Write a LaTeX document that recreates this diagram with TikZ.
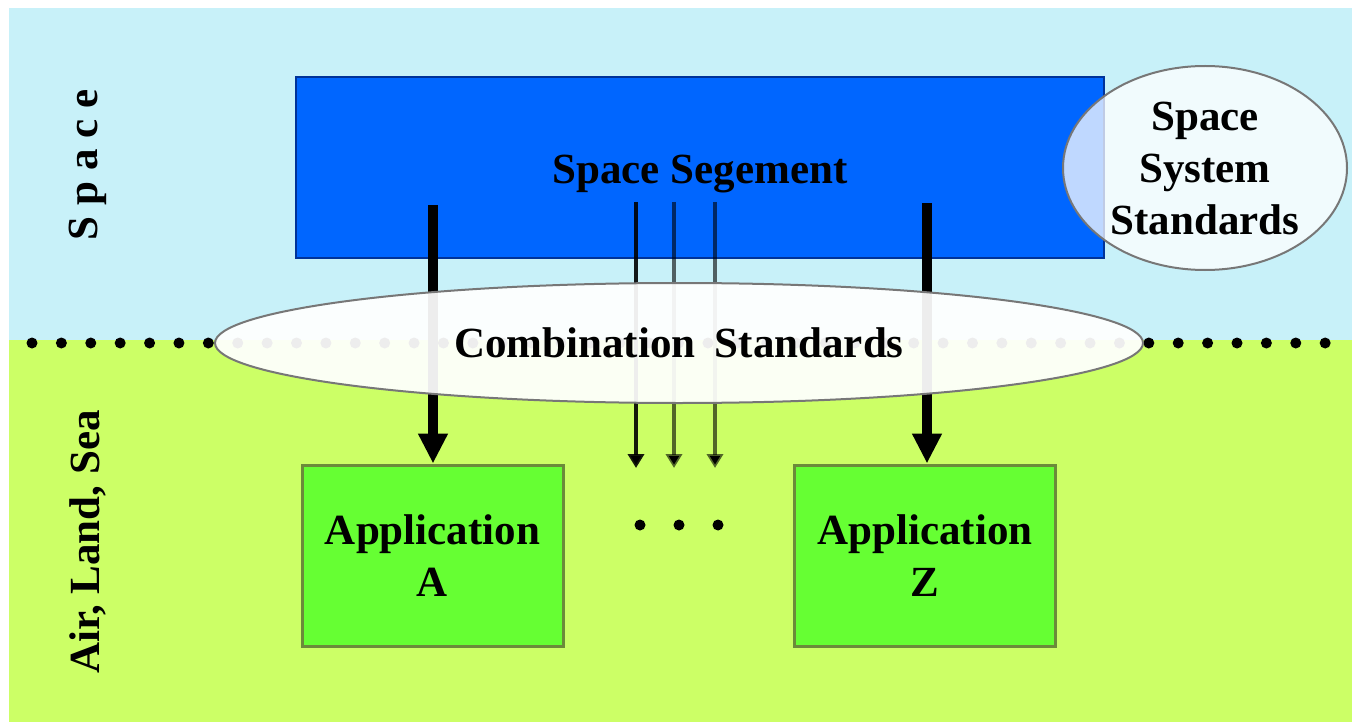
\documentclass[tikz,border=0pt]{standalone}
\usepackage{fontspec}
\setmainfont{Liberation Serif}
\usetikzlibrary{arrows.meta,shapes.geometric}
\definecolor{skybg}{HTML}{C8F1F9}
\definecolor{landbg}{HTML}{CCFF66}
\definecolor{segblue}{HTML}{0066FF}
\definecolor{segedge}{HTML}{003399}
\definecolor{appgreen}{HTML}{66FF33}
\definecolor{appedge}{HTML}{6B8B3A}
\definecolor{elledge}{HTML}{777777}
\tikzset{
  lbl/.style={font=\fontsize{43}{52}\selectfont\bfseries, text=black, align=center},
  segbox/.style={lbl, draw=segedge, line width=2pt, fill=segblue, minimum width=808pt, minimum height=181pt, inner sep=0pt},
  appbox/.style={lbl, draw=appedge, line width=3pt, fill=appgreen, minimum width=261pt, minimum height=181pt, inner sep=0pt},
  stdell/.style={lbl, ellipse, draw=elledge, line width=2pt, fill=white, inner sep=0pt},
  bigarrow/.style={line width=10pt, draw=black, -{Triangle[length=30pt,width=28pt]}},
  thinarrow/.style={line width=4.5pt, draw=black, draw opacity=0.6, -{Triangle[length=14pt,width=16pt]}},
  sidelbl/.style={lbl, rotate=90},
  bigdot/.style={circle, fill=black, minimum size=11pt, inner sep=0pt}
}
\begin{document}
\begin{tikzpicture}[x=1pt,y=-1pt]
\useasboundingbox (0,0) rectangle (1352,722);
\fill[white] (0,0) rectangle (1352,722);
\fill[skybg] (9,8) rectangle (1352,340);
\fill[landbg] (9,340) rectangle (1352,722);
% side labels
\node[sidelbl] (lspace) at (88,165) {S p a c e};
\node[sidelbl] (lland) at (88,542) {Air, Land, Sea};
% space segment
\node[segbox] (seg) at (700,167.5) {\raisebox{-7pt}[\height][\depth]{Space Segement}};
% dotted boundary
\foreach \i in {0,...,44} {\fill[black] ({32+\i*29.39},343) circle (5.5pt);}
% applications
\node[appbox] (appA) at (432.5,555.5) {Application\\A};
\node[appbox] (appZ) at (925,555.5) {Application\\Z};
% arrows
\coordinate (sA) at (433,205);
\coordinate (sZ) at (927,203);
\coordinate (t1) at (636,202);
\coordinate (t2) at (674,202);
\coordinate (t3) at (715,202);
\coordinate (e1) at (636,468);
\coordinate (e2) at (674,468);
\coordinate (e3) at (715,468);
\draw[bigarrow] (sA) -- (sA |- appA.north);
\draw[bigarrow] (sZ) -- (sZ |- appZ.north);
\draw[thinarrow, draw opacity=0.9] (t1) -- (e1);
\draw[thinarrow] (t2) -- (e2);
\draw[thinarrow] (t3) -- (e3);
% ellipses
\node[stdell, fill opacity=0.93, text opacity=1, minimum width=928pt, minimum height=120pt] (comb) at (679,343) {Combination\hspace{0.2em} Standards};
\node[stdell, fill opacity=0.75, text opacity=1, minimum width=284pt, minimum height=204pt] (sss) at (1205,168) {Space\\System\\Standards};
% ellipsis dots
\node[bigdot] (d1) at (640,525) {};
\node[bigdot] (d2) at (679,525) {};
\node[bigdot] (d3) at (718,525) {};
\end{tikzpicture}
\end{document}
